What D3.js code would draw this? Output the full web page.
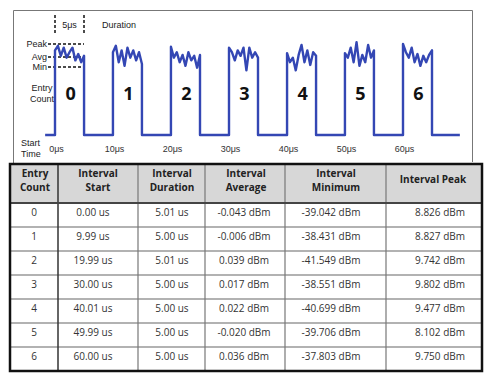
<!DOCTYPE html>
<html>
<head>
<meta charset="utf-8">
<script src="https://cdn.jsdelivr.net/npm/d3@7"></script>
<style>
  body { margin: 0; background: #fff; }
  text { font-family: "Liberation Sans", Arial, sans-serif; }
  .cell { font-family: "Open Sans", sans-serif; font-size: 10px; fill: #333; }
  .head { font-family: "Open Sans", sans-serif; font-size: 10px; font-weight: bold; fill: #222; }
</style>
</head>
<body>
<script>
// table values
var entryCount = ["0", "1", "2", "3", "4", "5", "6"];
var intervalStart = [0.00, 9.99, 19.99, 30.00, 40.01, 49.99, 60.00];       // us
var intervalDuration = [5.01, 5.00, 5.01, 5.00, 5.00, 5.00, 5.00];       // us
var intervalAverage = [-0.043, -0.006, 0.039, 0.017, 0.022, -0.020, 0.036]; // dBm
var intervalMinimum = [-39.042, -38.431, -41.549, -38.551, -40.699, -39.706, -37.803];
var intervalPeak = [8.826, 8.827, 9.742, 9.802, 9.477, 8.102, 9.750];
var headers = [["Entry", "Count"], ["Interval", "Start"], ["Interval", "Duration"],
               ["Interval", "Average"], ["Interval", "Minimum"], ["Interval Peak"]];

// waveform: relative level along the top of each pulse (0 = off, 100 = peak line)
var pulseLevels = [
  [93, 98, 87, 96, 85, 91, 96, 82, 89, 80, 87],
  [91, 98, 80, 93, 76, 96, 85, 93, 82, 91, 78],
  [97, 85, 91, 80, 88, 76, 91, 82, 87, 74, 88],
  [96, 91, 82, 93, 87, 96, 71, 96, 85, 91, 85],
  [90, 80, 85, 71, 88, 99, 80, 93, 77, 91, 87],
  [90, 85, 96, 80, 102, 76, 88, 80, 99, 85, 93],
  [100, 91, 85, 96, 80, 89, 76, 87, 80, 88, 93]
];
var traceStart = -1.7, traceEnd = 69.8;   // us
var timeTicks = [0, 10, 20, 30, 40, 50, 60];
var markerLevels = [{name: "Peak", v: 100}, {name: "Avg", v: 85.7}, {name: "Min", v: 74.7}];

var svg = d3.select("body").append("svg")
    .attr("width", 487)
    .attr("height", 374);

var x = d3.scaleLinear().domain([0, 60]).range([55, 403]);
var y = d3.scaleLinear().domain([0, 100]).range([135, 44]);

// frame round the diagram
svg.append("path")
    .attr("d", "M13.5,164 V10.5 H472.5 V162")
    .attr("fill", "none")
    .attr("stroke", "#777")
    .attr("stroke-width", 1);

// build the trace points
var pts = [[traceStart, 0]];
intervalStart.forEach(function(s, i){
    var d = intervalDuration[i];
    var lv = pulseLevels[i];
    pts.push([s, 0]);
    lv.forEach(function(v, j){
        pts.push([s + d * j / (lv.length - 1), v]);
    });
    pts.push([s + d, 0]);
});
pts.push([traceEnd, 0]);

var line = d3.line()
    .x(function(d){ return x(d[0]); })
    .y(function(d){ return y(d[1]); });

// dashed marker lines for peak / avg / min
svg.selectAll(".mark")
    .data(markerLevels)
    .enter()
    .append("line")
    .attr("x1", 48).attr("x2", x(5) - 0)
    .attr("y1", function(d){ return y(d.v); })
    .attr("y2", function(d){ return y(d.v); })
    .attr("stroke", "#111")
    .attr("stroke-width", 1.4)
    .attr("stroke-dasharray", "3,2");

svg.append("path")
    .datum(pts)
    .attr("d", line)
    .attr("fill", "none")
    .attr("stroke", "#3447b4")
    .attr("stroke-width", 2.4)
    .attr("stroke-linejoin", "round");

svg.selectAll(".markLabel")
    .data(markerLevels)
    .enter()
    .append("text")
    .attr("x", 47)
    .attr("y", function(d){ return y(d.v); })
    .attr("dy", "0.35em")
    .attr("text-anchor", "end")
    .style("font-size", "9px")
    .style("fill", "#222")
    .text(function(d){ return d.name; });

// 5us duration marker
[0, 5].forEach(function(t){
    svg.append("line")
        .attr("x1", x(t)).attr("x2", x(t))
        .attr("y1", 15).attr("y2", 33)
        .attr("stroke", "#111")
        .attr("stroke-width", 1.5)
        .attr("stroke-dasharray", "3,2");
});
svg.append("text").attr("x", x(2.5)).attr("y", 28)
    .attr("text-anchor", "middle").style("font-size", "9px").style("fill", "#222")
    .text("5μs");
svg.append("text").attr("x", 102).attr("y", 28)
    .style("font-size", "9px").style("fill", "#222")
    .text("Duration");

// entry count label + big numbers
svg.append("text").attr("x", 42).attr("y", 91)
    .attr("text-anchor", "middle").style("font-size", "9px").style("fill", "#222")
    .text("Entry");
svg.append("text").attr("x", 42).attr("y", 102)
    .attr("text-anchor", "middle").style("font-size", "9px").style("fill", "#222")
    .text("Count");

svg.selectAll(".num")
    .data(entryCount)
    .enter()
    .append("text")
    .attr("x", function(d, i){ return x(intervalStart[i] + intervalDuration[i] / 2) + 1; })
    .attr("y", 100)
    .attr("text-anchor", "middle")
    .style("font-family", "'Open Sans', sans-serif")
    .style("font-weight", "bold")
    .style("font-size", "18px")
    .style("fill", "#111")
    .text(function(d){ return d; });

// start time axis labels
svg.append("text").attr("x", 21).attr("y", 146)
    .style("font-size", "9px").style("fill", "#222").text("Start");
svg.append("text").attr("x", 21).attr("y", 157)
    .style("font-size", "9px").style("fill", "#222").text("Time");

var axis = d3.axisBottom(x)
    .tickValues(timeTicks)
    .tickSize(0)
    .tickFormat(function(d){ return d + "μs"; });
var gAxis = svg.append("g")
    .attr("transform", "translate(1,143)")
    .call(axis);
gAxis.select(".domain").remove();
gAxis.selectAll("text")
    .style("font-family", "'Liberation Sans', Arial, sans-serif")
    .style("font-size", "9px")
    .style("fill", "#333");

// ---------- table ----------
var colEdges = [10, 58, 138, 205, 285, 386, 482];
var headCenters = [35, 98, 172, 246, 336, 433];
var cellCenters = [34, 93, 172, 244, 331, 440];
var headTop = 164, headBottom = 203, rowH = 24;

var rows = entryCount.map(function(c, i){
    return [c,
        intervalStart[i].toFixed(2) + " us",
        intervalDuration[i].toFixed(2) + " us",
        intervalAverage[i].toFixed(3) + " dBm",
        intervalMinimum[i].toFixed(3) + " dBm",
        intervalPeak[i].toFixed(3) + " dBm"];
});
var tableBottom = headBottom + rowH * rows.length;

svg.append("rect")
    .attr("x", colEdges[0]).attr("y", headTop)
    .attr("width", colEdges[6] - colEdges[0]).attr("height", headBottom - headTop)
    .attr("fill", "#d7d7d7");

// row lines
svg.selectAll(".rowLine")
    .data(d3.range(1, rows.length))
    .enter()
    .append("line")
    .attr("x1", colEdges[0]).attr("x2", colEdges[6])
    .attr("y1", function(d){ return headBottom + d * rowH; })
    .attr("y2", function(d){ return headBottom + d * rowH; })
    .attr("stroke", "#999")
    .attr("stroke-width", 1.3);

// column lines
svg.selectAll(".colLine")
    .data(colEdges.slice(1, 6))
    .enter()
    .append("line")
    .attr("x1", function(d){ return d; }).attr("x2", function(d){ return d; })
    .attr("y1", headTop).attr("y2", tableBottom)
    .attr("stroke", function(d, i){ return i == 0 ? "#333" : "#777"; })
    .attr("stroke-width", function(d, i){ return i == 0 ? 1.5 : 1.2; });

svg.append("line")
    .attr("x1", colEdges[0]).attr("x2", colEdges[6])
    .attr("y1", headBottom).attr("y2", headBottom)
    .attr("stroke", "#444").attr("stroke-width", 2);

svg.append("rect")
    .attr("x", colEdges[0]).attr("y", headTop)
    .attr("width", colEdges[6] - colEdges[0]).attr("height", tableBottom - headTop)
    .attr("fill", "none")
    .attr("stroke", "#111")
    .attr("stroke-width", 2.5);

// headers
headers.forEach(function(h, i){
    var t = svg.append("text")
        .attr("class", "head")
        .attr("text-anchor", "middle");
    var y0 = h.length == 1 ? 183 : 177;
    h.forEach(function(s, k){
        t.append("tspan").attr("x", headCenters[i]).attr("y", y0 + k * 14).text(s);
    });
});

// body cells
rows.forEach(function(r, i){
    svg.selectAll(".c" + i)
        .data(r)
        .enter()
        .append("text")
        .attr("class", "cell")
        .attr("x", function(d, j){ return cellCenters[j]; })
        .attr("y", headBottom + i * rowH + rowH / 2 + 1)
        .attr("text-anchor", "middle")
        .text(function(d){ return d; });
});
</script>
</body>
</html>
